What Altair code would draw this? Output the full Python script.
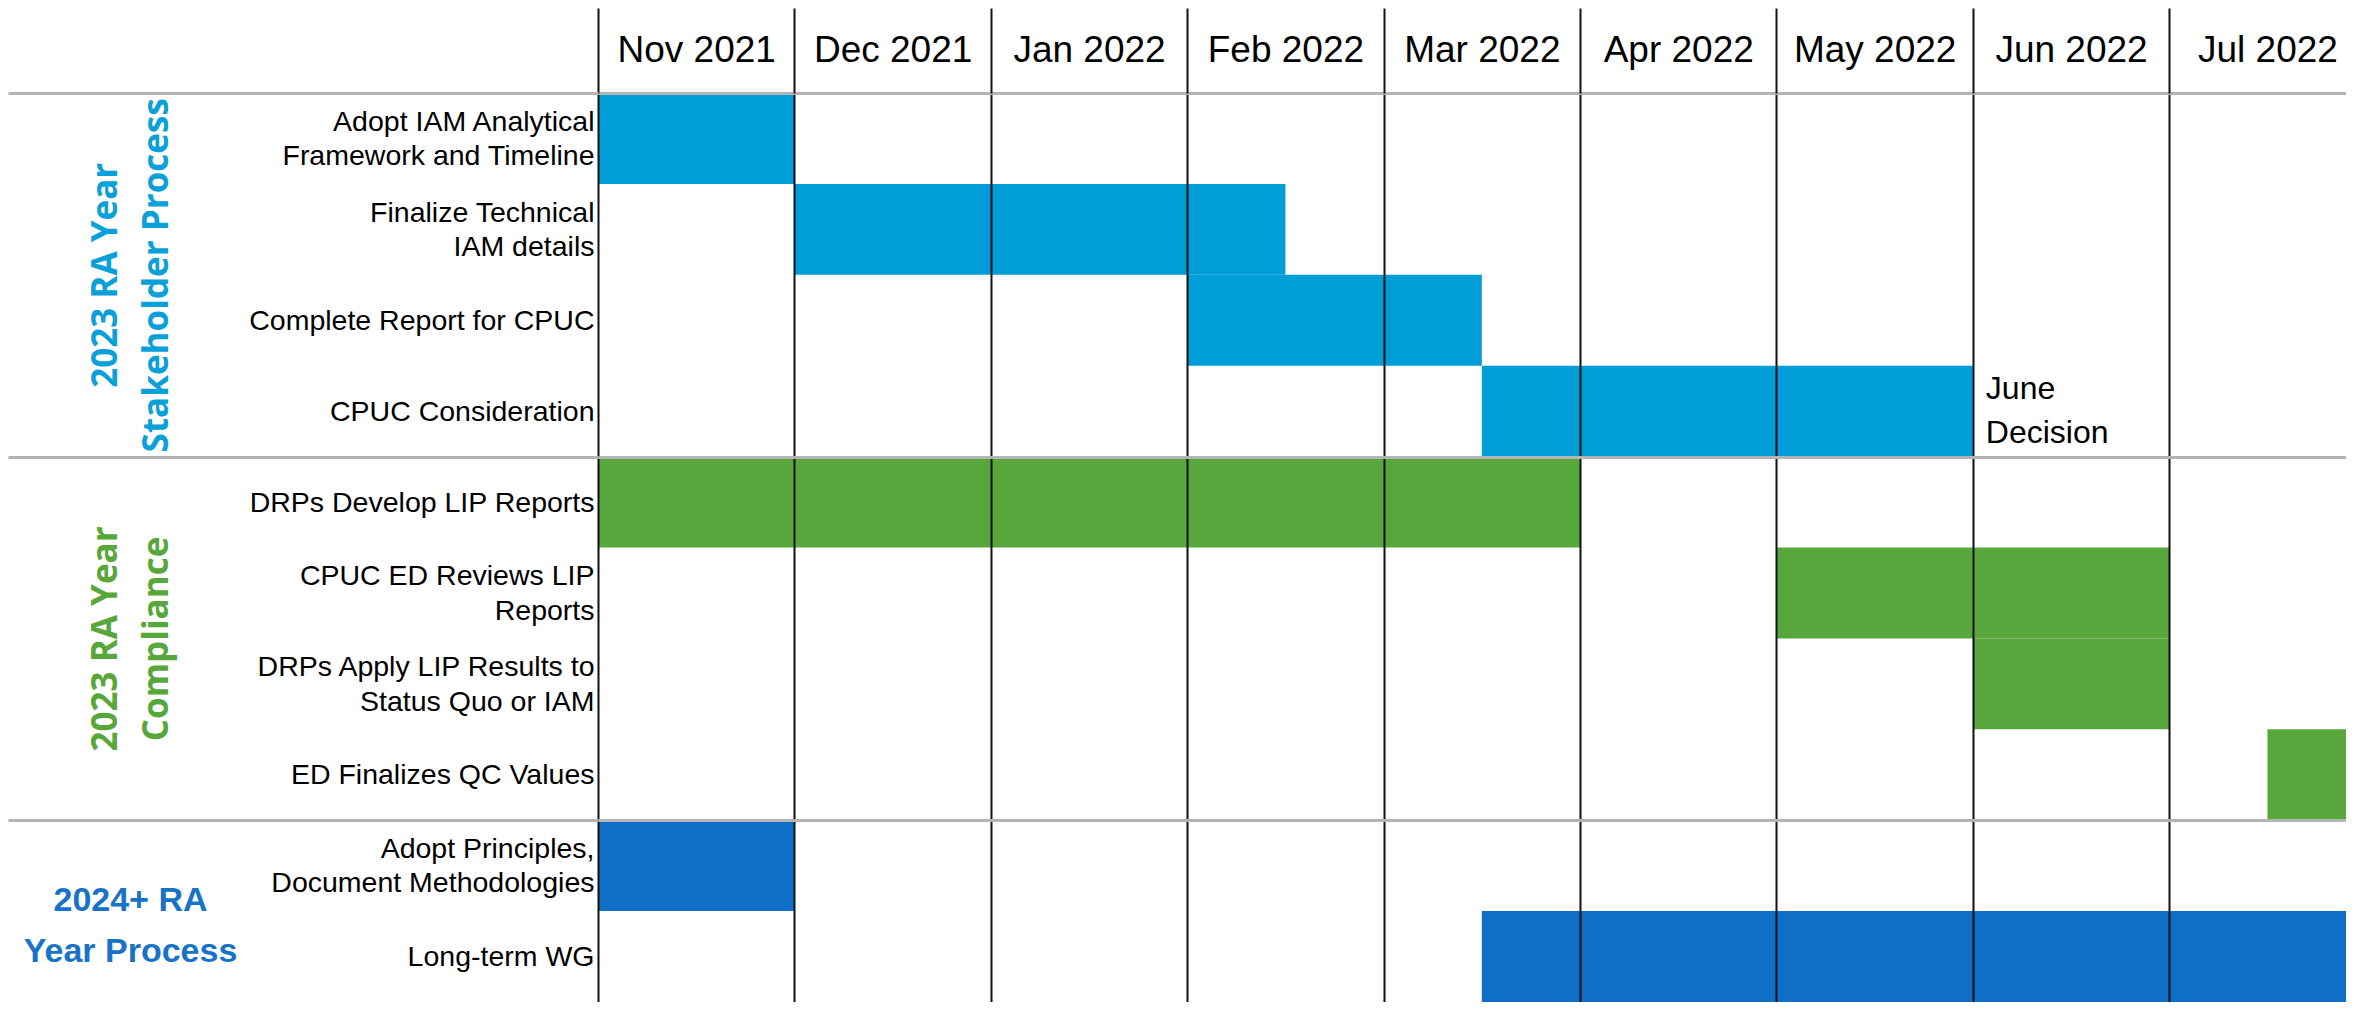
import json
import altair as alt
import pandas as pd

# ---------------- data ----------------
months = ["Nov 2021", "Dec 2021", "Jan 2022", "Feb 2022", "Mar 2022",
          "Apr 2022", "May 2022", "Jun 2022", "Jul 2022"]

tasks = [
    "Adopt IAM Analytical|Framework and Timeline",
    "Finalize Technical|IAM details",
    "Complete Report for CPUC",
    "CPUC Consideration",
    "DRPs Develop LIP Reports",
    "CPUC ED Reviews LIP|Reports",
    "DRPs Apply LIP Results to|Status Quo or IAM",
    "ED Finalizes QC Values",
    "Adopt Principles,|Document Methodologies",
    "Long-term WG",
]
task_group = ["stake"] * 4 + ["comp"] * 4 + ["future"] * 2
start_month = [0, 1, 3, 4.5, 0, 6, 7, 8.5, 0, 4.5]
end_month = [1, 3.5, 4.5, 7, 5, 8, 8, 9, 1, 9]

groups = ["stake", "comp", "future"]
group_labels = ["2023 RA Year|Stakeholder Process",
                "2023 RA Year|Compliance",
                "2024+ RA|Year Process"]
group_centers = [2, 6, 9]
group_colors = ["#009DD9", "#58A73D", "#0F6FC6"]
group_text_colors = ["#0BA0DA", "#58A73A", "#1872C8"]
group_fonts = ["Open Sans", "Open Sans", "Liberation Sans"]
group_font_sizes = [35, 35, 34]
group_angles = [270, 270, 0]
group_line_heights = [51, 51, 51]
group_pads = [493, 493, 468]
group_shift = [0, 0, -11]

separators = [0, 4, 8]

note_text = ["June\nDecision"]
note_month = [7]
note_row = [3.5]

# ---------------- build ----------------
n = len(tasks)
df = pd.DataFrame({
    "task": tasks,
    "group": task_group,
    "start": start_month,
    "end": end_month,
    "row": list(range(n)),
    "row_end": [i + 1 for i in range(n)],
})
note_df = pd.DataFrame({"text": note_text, "m": note_month, "r": note_row})

task_centers = [i + 0.5 for i in range(n)]

TV = json.dumps(task_centers)
TL = json.dumps(tasks)
GV = json.dumps(group_centers)
GL = json.dumps(group_labels)
SV = json.dumps(separators)
gi = f"indexof({GV}, datum.value)"
ti = f"indexof({TV}, datum.value)"
is_group = f"({gi} >= 0)"
is_task = f"({ti} >= 0)"
is_sep = f"(indexof({SV}, datum.value) >= 0)"

y_label_expr = (f"{is_group} ? split({GL}[{gi}], '|') : "
                f"({is_task} ? split({TL}[{ti}], '|') : '')")

task_line_h = 34.5
x_scale = alt.Scale(domain=[0, 8.9], nice=False, zero=False)
y_scale = alt.Scale(domain=[0, n], reverse=True, nice=False, zero=False)

x_axis = alt.Axis(
    orient="top",
    values=list(range(len(months))),
    labelExpr=f"{json.dumps(months)}[datum.value]",
    labelOffset=98.2,
    labelPadding=-42,
    labelBaseline="middle",
    labelAlign="center",
    labelFont="Liberation Sans",
    labelFontSize=37,
    labelColor="#000000",
    labelFlush=False,
    labelOverlap=False,
    labelLimit=1000,
    tickSize=85,
    tickColor="#111111",
    tickWidth=2,
    grid=True,
    gridColor="#111111",
    gridWidth=2,
    domain=False,
    title=None,
    zindex=1,
)

y_axis = alt.Axis(
    orient="left",
    values=separators + task_centers + group_centers,
    labelExpr=y_label_expr,
    labelBaseline="middle",
    labelAlign={"expr": f"{is_group} ? 'center' : 'right'"},
    labelAngle={"expr": f"{is_group} ? {json.dumps(group_angles)}[{gi}] : 0"},
    labelLineHeight={"expr": f"{is_group} ? {json.dumps(group_line_heights)}[{gi}] : {task_line_h}"},
    labelOffset={"expr": f"{is_group} ? {json.dumps(group_shift)}[{gi}] : "
                         f"({is_task} ? -(length(split({TL}[{ti}], '|')) - 1) * {task_line_h / 2} : 0)"},
    labelFont={"expr": f"{is_group} ? {json.dumps(group_fonts)}[{gi}] : 'Liberation Sans'"},
    labelFontSize={"expr": f"{is_group} ? {json.dumps(group_font_sizes)}[{gi}] : 28.5"},
    labelFontWeight={"expr": f"{is_group} ? 'bold' : 'normal'"},
    labelColor={"expr": f"{is_group} ? {json.dumps(group_text_colors)}[{gi}] : '#000000'"},
    labelPadding={"expr": f"{is_group} ? {json.dumps(group_pads)}[{gi}] : 4"},
    labelFlush=False,
    labelOverlap=False,
    labelBound=False,
    labelLimit=1000,
    tickSize={"expr": f"{is_sep} ? 590 : 0"},
    tickOpacity={"expr": f"{is_sep} ? 1 : 0"},
    tickColor="#B4B4B4",
    tickWidth=3,
    grid=True,
    gridColor="#B4B4B4",
    gridWidth=3,
    gridOpacity={"expr": f"{is_sep} ? 1 : 0"},
    domain=False,
    title=None,
    zindex=1,
)

bars = alt.Chart(df).mark_rect(clip=True).encode(
    x=alt.X("start:Q", scale=x_scale, axis=x_axis),
    x2="end:Q",
    y=alt.Y("row:Q", scale=y_scale, axis=y_axis),
    y2="row_end:Q",
    color=alt.Color("group:N", scale=alt.Scale(domain=groups, range=group_colors), legend=None),
)

note = alt.Chart(note_df).mark_text(
    align="left", baseline="middle", dx=13, dy=-22, fontSize=32, lineHeight=44,
    font="Liberation Sans", lineBreak="\n", color="#000000",
).encode(
    x=alt.X("m:Q", scale=x_scale, axis=x_axis),
    y=alt.Y("r:Q", scale=y_scale, axis=y_axis),
    text="text:N",
)

chart = alt.layer(bars, note).properties(
    width=1748,
    height=909,
    padding={"left": 590, "top": 85, "right": 0, "bottom": 0},
    autosize=alt.AutoSizeParams(type="none"),
    background="white",
).configure_view(strokeWidth=0)

chart.save("out.html", embed_options={"renderer": "svg", "actions": False})
